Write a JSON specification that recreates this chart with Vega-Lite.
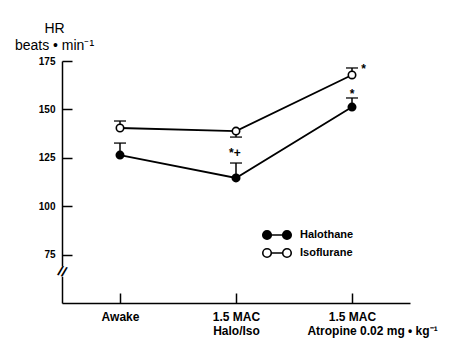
{
  "$schema": "https://vega.github.io/schema/vega-lite/v6.json",
  "width": 348,
  "height": 242,
  "autosize": {"type": "none"},
  "padding": {"left": 62, "top": 61, "right": 50, "bottom": 45},
  "background": "white",
  "config": {
    "view": {"stroke": null},
    "font": "Liberation Sans",
    "axis": {"grid": false, "domainColor": "black", "tickColor": "black", "labelColor": "black", "titleColor": "black", "domainWidth": 1.5, "tickWidth": 1.5}
  },
  "datasets": {
    "hr": [
      {"x": 0, "series": "Halothane", "hr": 126.4, "err": 132.6},
      {"x": 1, "series": "Halothane", "hr": 114.6, "err": 122.3},
      {"x": 2, "series": "Halothane", "hr": 151.2, "err": 155.9},
      {"x": 0, "series": "Isoflurane", "hr": 140.4, "err": 144.0},
      {"x": 1, "series": "Isoflurane", "hr": 138.8, "err": 135.7},
      {"x": 2, "series": "Isoflurane", "hr": 167.8, "err": 171.4}
    ],
    "notes": [
      {"x": 0.99, "y": 127.3, "label": "*+"},
      {"x": 2, "y": 157.8, "label": "*"},
      {"x": 2.1, "y": 170.8, "label": "*"}
    ],
    "brk": [
      {"x": -0.5, "y": 66, "y1": 63.5, "y2": 69}
    ]
  },
  "layer": [
    {
      "data": {"name": "hr"},
      "mark": {"type": "line", "color": "black", "strokeWidth": 1.8},
      "encoding": {
        "x": {"field": "x", "type": "quantitative", "scale": {"domain": [-0.5, 2.5], "nice": false, "zero": false},
          "axis": {"values": [0, 1, 2], "title": null, "tickSize": -10, "labelPadding": 18, "labelFontSize": 12, "labelFontWeight": "bold", "labelLineHeight": 14, "labelBaseline": "top",
            "labelExpr": "datum.value == 0 ? 'Awake' : datum.value == 1 ? ['1.5 MAC', 'Halo/Iso'] : ['1.5 MAC', '\u200b\u00a0\u00a0\u00a0\u00a0\u00a0\u00a0\u00a0\u00a0\u00a0\u00a0\u00a0\u00a0Atropine 0.02 mg • kg⁻¹']"}},
        "y": {"field": "hr", "type": "quantitative", "scale": {"domain": [50, 175], "nice": false, "zero": false},
          "axis": {"values": [75, 100, 125, 150, 175], "tickSize": -10, "labelPadding": 17, "labelFontSize": 10, "labelFontWeight": "bold",
            "title": ["HR", "beats • min⁻¹"], "titleAngle": 0, "titleAlign": "center", "titleBaseline": "alphabetic", "titleX": -8, "titleY": -29, "titleFontSize": 14, "titleFontWeight": "normal", "titleLineHeight": 17}},
        "detail": {"field": "series"}
      }
    },
    {
      "data": {"name": "hr"},
      "mark": {"type": "rule", "color": "black", "strokeWidth": 1.5},
      "encoding": {
        "x": {"field": "x", "type": "quantitative"},
        "y": {"field": "hr", "type": "quantitative"},
        "y2": {"field": "err"}
      }
    },
    {
      "data": {"name": "hr"},
      "mark": {"type": "tick", "orient": "horizontal", "color": "black", "size": 12, "thickness": 1.8},
      "encoding": {
        "x": {"field": "x", "type": "quantitative"},
        "y": {"field": "err", "type": "quantitative"}
      }
    },
    {
      "data": {"name": "hr"},
      "mark": {"type": "point", "filled": false, "stroke": "black", "strokeWidth": 1.6, "size": 55, "opacity": 1},
      "encoding": {
        "x": {"field": "x", "type": "quantitative"},
        "y": {"field": "hr", "type": "quantitative"},
        "fill": {"field": "series", "type": "nominal", "scale": {"domain": ["Halothane", "Isoflurane"], "range": ["black", "white"]},
          "legend": {"title": null, "orient": "none", "legendX": 209, "legendY": 168, "symbolType": "M-3,0A0.9,0.9 0 1,0 -1.2,0A0.9,0.9 0 1,0 -3,0Z M-1.2,0H1.2 M1.2,0A0.9,0.9 0 1,0 3,0A0.9,0.9 0 1,0 1.2,0Z", "symbolSize": 90, "symbolStrokeColor": "black", "symbolStrokeWidth": 1.6, "labelFontSize": 11, "labelFontWeight": "bold", "labelColor": "black", "rowPadding": 2, "labelOffset": 17}}
      }
    },
    {
      "data": {"name": "notes"},
      "mark": {"type": "text", "fontSize": 12, "fontWeight": "bold", "color": "black", "baseline": "middle"},
      "encoding": {
        "x": {"field": "x", "type": "quantitative"},
        "y": {"field": "y", "type": "quantitative"},
        "text": {"field": "label"}
      }
    },
    {
      "data": {"name": "brk"},
      "mark": {"type": "rule", "color": "white", "strokeWidth": 4},
      "encoding": {
        "x": {"field": "x", "type": "quantitative"},
        "y": {"field": "y1", "type": "quantitative"},
        "y2": {"field": "y2"}
      }
    },
    {
      "data": {"name": "brk"},
      "mark": {"type": "text", "text": "//", "fontSize": 14, "fontWeight": "bold", "color": "black", "baseline": "middle", "angle": 20},
      "encoding": {
        "x": {"field": "x", "type": "quantitative"},
        "y": {"field": "y", "type": "quantitative"}
      }
    }
  ]
}
